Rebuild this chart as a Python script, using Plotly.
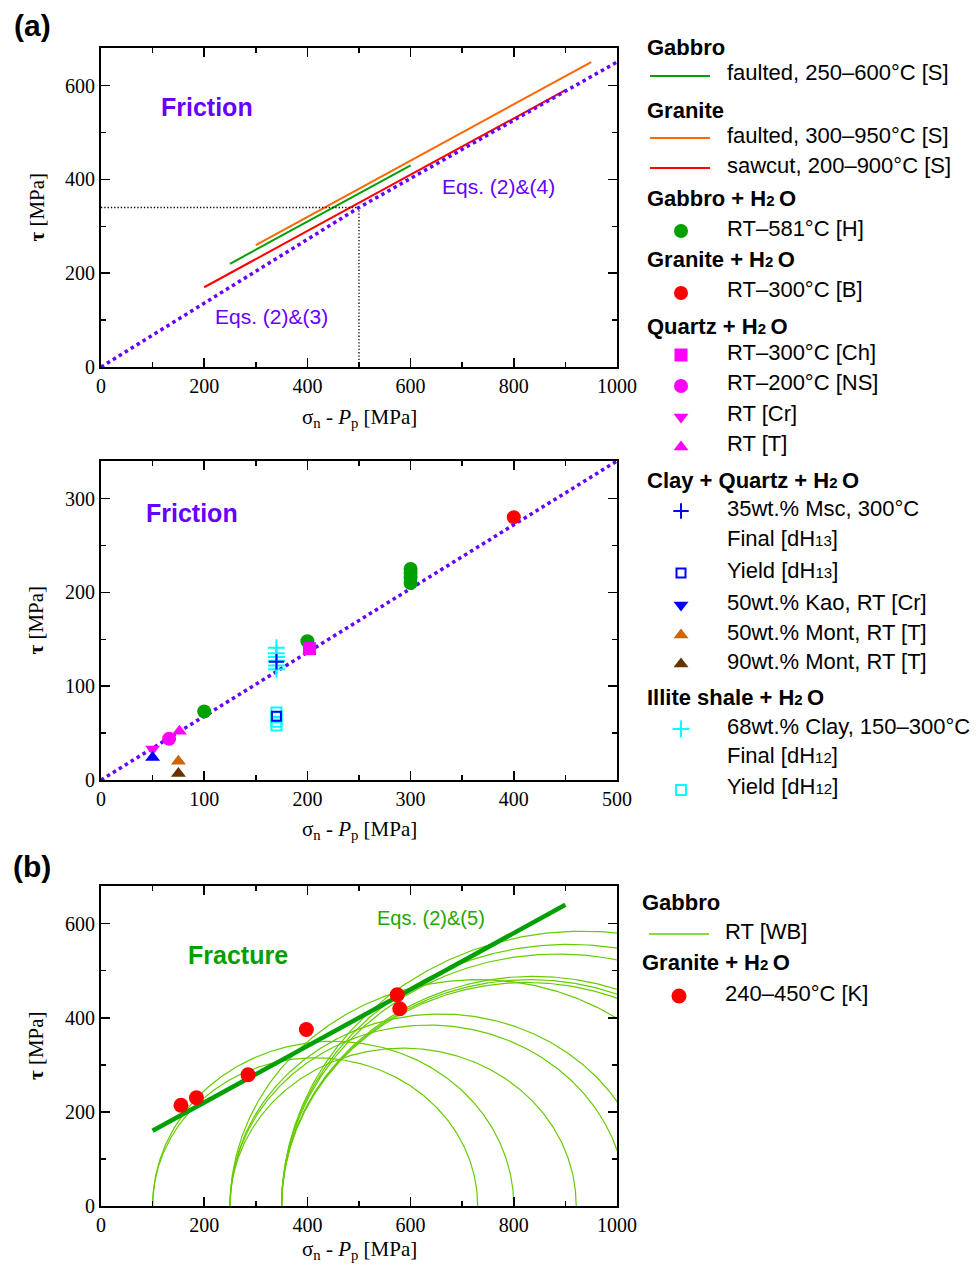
import numpy as np
import plotly.graph_objects as go

W, H = 978, 1267

# ======================= DATA =======================
# (a) upper panel: friction laws, end points (sigma_n - Pp, tau) in MPa
gabbro_faulted_sn = [250, 600]
gabbro_faulted_tau = [220, 430]
granite_faulted_sn = [300, 950]
granite_faulted_tau = [260, 650]
granite_sawcut_sn = [200, 900]
granite_sawcut_tau = [170, 590]
eqs_sn = [0, 500, 1000]          # Eqs. (2)&(3) / (2)&(4)
eqs_tau = [0, 340, 650]
guide_sn = [0, 500, 500]
guide_tau = [340, 340, 0]

# (a) lower panel: wet friction data
gabbro_h2o_sn = [100, 200, 300, 300, 300, 300]
gabbro_h2o_tau = [73, 148, 210, 216, 221, 225]
granite_h2o_sn = [400]
granite_h2o_tau = [280]
qz_ch_sn = [202]
qz_ch_tau = [140]
qz_ns_sn = [66]
qz_ns_tau = [44]
qz_cr_sn = [50]
qz_cr_tau = [33]
qz_t_sn = [76]
qz_t_tau = [52]
illite_final_sn = [170, 170, 170, 170, 170, 170]
illite_final_tau = [141, 135, 131, 127, 122, 118]
illite_yield_sn = [170, 170, 170, 170]
illite_yield_tau = [72, 67, 62, 58]
msc_final_sn = [170]
msc_final_tau = [126]
msc_yield_sn = [170]
msc_yield_tau = [68]
kao_sn = [50]
kao_tau = [24]
mont50_sn = [75]
mont50_tau = [20]
mont90_sn = [75]
mont90_tau = [7]

# (b) fracture
fracture_sn = [100, 900]         # Eqs. (2)&(5)
fracture_tau = [160, 640]
mohr_sigma3 = [100, 100, 250, 250, 250, 250, 350, 350, 350, 350, 350, 350]
mohr_sigma1 = [730, 800, 921, 1019, 1066, 1212, 1300, 1312, 1326, 1421, 1462, 1518]
granite_k_sn = [155, 185, 285, 398, 574, 579]
granite_k_tau = [214, 230, 279, 375, 449, 419]

# tick values
ticks_1000 = [0, 200, 400, 600, 800, 1000]
ticks_600 = [0, 200, 400, 600]
ticks_500 = [0, 100, 200, 300, 400, 500]
ticks_300 = [0, 100, 200, 300]

# ======================= STYLES =======================
PURPLE = "#6600ff"
GREEN = "#00a000"
LGREEN = "#66cc00"
ORANGE = "#ff6600"
RED = "#ff0000"
MAG = "#ff00ff"
BLUE = "#0000ff"
CYAN = "#00ffff"
DORANGE = "#cc6600"
BROWN = "#663300"
SANS = "Liberation Sans, Arial, sans-serif"
SERIF = "Liberation Serif, Times New Roman, serif"

line_styles = {
    "gabbro_faulted": dict(color=GREEN, width=2),
    "granite_faulted": dict(color=ORANGE, width=2),
    "granite_sawcut": dict(color=RED, width=2),
    "gabbro_wb": dict(color=LGREEN, width=1.2),
}
marker_styles = {
    "gabbro_h2o": dict(symbol="circle", size=14, color=GREEN),
    "granite_h2o": dict(symbol="circle", size=14, color=RED),
    "qz_ch": dict(symbol="square", size=13, color=MAG),
    "qz_ns": dict(symbol="circle", size=14, color=MAG),
    "qz_cr": dict(symbol="triangle-down", size=13, color=MAG),
    "qz_t": dict(symbol="triangle-up", size=13, color=MAG),
    "msc_final": dict(symbol="cross-thin", size=11, color=BLUE, line=dict(color=BLUE, width=2)),
    "msc_yield": dict(symbol="square-open", size=9, color=BLUE, line=dict(color=BLUE, width=2)),
    "kao": dict(symbol="triangle-down", size=13, color=BLUE),
    "kao_plot": dict(symbol="triangle-up", size=13, color=BLUE),
    "mont50": dict(symbol="triangle-up", size=13, color=DORANGE),
    "mont90": dict(symbol="triangle-up", size=13, color=BROWN),
    "illite_final": dict(symbol="cross-thin", size=12, color=CYAN, line=dict(color=CYAN, width=2)),
    "illite_yield": dict(symbol="square-open", size=10, color=CYAN, line=dict(color=CYAN, width=2)),
    "granite_k": dict(symbol="circle", size=15, color=RED),
}

# panel boxes in pixels (left, right, top, bottom)
PX_L, PX_R = 101, 617
BOX = {"top": (48, 367), "mid": (461, 780), "bot": (886, 1206)}


def ydom(box):
    t, b = BOX[box]
    return [1 - b / H, 1 - t / H]


fig = go.Figure()


def add_line(x, y, style, xa, ya, dash=None, name=""):
    ln = dict(line_styles[style]) if isinstance(style, str) else dict(style)
    if dash:
        ln["dash"] = dash
    fig.add_trace(go.Scatter(x=x, y=y, mode="lines", line=ln, xaxis=xa, yaxis=ya,
                             showlegend=False, hoverinfo="skip", name=name))


def add_markers(x, y, style, xa, ya, name=""):
    fig.add_trace(go.Scatter(x=x, y=y, mode="markers", marker=marker_styles[style],
                             xaxis=xa, yaxis=ya, showlegend=False, name=name))


# ---- top panel ----
add_line(gabbro_faulted_sn, gabbro_faulted_tau, "gabbro_faulted", "x", "y")
add_line(granite_faulted_sn, granite_faulted_tau, "granite_faulted", "x", "y")
add_line(granite_sawcut_sn, granite_sawcut_tau, "granite_sawcut", "x", "y")
add_line(guide_sn, guide_tau, dict(color="black", width=1.3), "x", "y", dash="1.3px,2px")
add_line(eqs_sn, eqs_tau, dict(color=PURPLE, width=3.5), "x", "y", dash="dot")

# ---- middle panel ----
add_line(eqs_sn, eqs_tau, dict(color=PURPLE, width=3.5), "x2", "y2", dash="dot")
add_markers(gabbro_h2o_sn, gabbro_h2o_tau, "gabbro_h2o", "x2", "y2")
add_markers(granite_h2o_sn, granite_h2o_tau, "granite_h2o", "x2", "y2")
add_markers(qz_ch_sn, qz_ch_tau, "qz_ch", "x2", "y2")
add_markers(qz_ns_sn, qz_ns_tau, "qz_ns", "x2", "y2")
add_markers(qz_t_sn, qz_t_tau, "qz_t", "x2", "y2")
add_markers(qz_cr_sn, qz_cr_tau, "qz_cr", "x2", "y2")
add_markers(illite_final_sn, illite_final_tau, "illite_final", "x2", "y2")
add_markers(illite_yield_sn, illite_yield_tau, "illite_yield", "x2", "y2")
add_markers(msc_final_sn, msc_final_tau, "msc_final", "x2", "y2")
add_markers(msc_yield_sn, msc_yield_tau, "msc_yield", "x2", "y2")
add_markers(kao_sn, kao_tau, "kao_plot", "x2", "y2")
add_markers(mont50_sn, mont50_tau, "mont50", "x2", "y2")
add_markers(mont90_sn, mont90_tau, "mont90", "x2", "y2")

# ---- bottom panel ----
theta = np.linspace(0, np.pi, 361)
for s3, s1 in zip(mohr_sigma3, mohr_sigma1):
    c, r = (s1 + s3) / 2, (s1 - s3) / 2
    add_line(c + r * np.cos(theta), r * np.sin(theta), "gabbro_wb", "x3", "y3")
add_line(fracture_sn, fracture_tau, dict(color=GREEN, width=4.5), "x3", "y3")
add_markers(granite_k_sn, granite_k_tau, "granite_k", "x3", "y3")


# ---- axes ----
def axis(rng, minor, domain, anchor, tickvals):
    return dict(range=rng, domain=domain, anchor=anchor, tickmode="array", tickvals=tickvals,
                ticks="inside", ticklen=9, tickwidth=1.5, tickcolor="black",
                showline=True, linecolor="black", linewidth=2, mirror="ticks",
                showgrid=False, zeroline=False, automargin=False,
                minor=dict(ticks="inside", ticklen=5, dtick=minor, tick0=0, tickwidth=1.5,
                           tickcolor="black", showgrid=False),
                tickfont=dict(family=SERIF, size=20, color="black"), fixedrange=True)


def hidden(rng, anchor):
    return dict(domain=[0, 1], range=rng, visible=False, showticklabels=False, ticks="",
                showgrid=False, zeroline=False, anchor=anchor, automargin=False, fixedrange=True)


xdom = [PX_L / W, PX_R / W]
fig.update_layout(
    template="none",
    xaxis=axis([0, 1000], 100, xdom, "y", ticks_1000),
    yaxis=axis([0, 680], 100, ydom("top"), "x", ticks_600),
    xaxis2=axis([0, 500], 50, xdom, "y2", ticks_500),
    yaxis2=axis([0, 340], 50, ydom("mid"), "x2", ticks_300),
    xaxis3=axis([0, 1000], 100, xdom, "y3", ticks_1000),
    yaxis3=axis([0, 680], 100, ydom("bot"), "x3", ticks_600),
    xaxis4=hidden([0, W], "y4"),
    yaxis4=hidden([H, 0], "x4"),
)

annotations = []


def ann(text, x, y, xref, yref, size, color="black", family=SANS, xanchor="center",
        yanchor="middle", textangle=0):
    annotations.append(dict(text=text, x=x, y=y, xref=xref, yref=yref, showarrow=False,
                            xanchor=xanchor, yanchor=yanchor, textangle=textangle,
                            font=dict(family=family, size=size, color=color)))


# panel labels
ann("<b>(a)</b>", 32.5 / W, 1 - 26 / H, "paper", "paper", 30)
ann("<b>(b)</b>", 31.5 / W, 1 - 866 / H, "paper", "paper", 30)

# axis titles
xtitle = "σ<sub>n</sub> - <i>P</i><sub>p</sub> [MPa]"
ytitle = "<b>τ</b> [MPa]"
for box, ty in (("top", 418), ("mid", 830), ("bot", 1250)):
    t, b = BOX[box]
    ann(xtitle, (PX_L + PX_R) / 2 / W, 1 - ty / H, "paper", "paper", 21, family=SERIF)
    ann(ytitle, 36 / W, 1 - (t + b) / 2 / H, "paper", "paper", 21, family=SERIF, textangle=-90)

# in-plot labels
ann("<b>Friction</b>", 206, 555, "x", "y", 25, PURPLE)
ann("Eqs. (2)&(4)", 770, 384, "x", "y", 21, PURPLE)
ann("Eqs. (2)&(3)", 330, 107, "x", "y", 21, PURPLE)
ann("<b>Friction</b>", 88, 285, "x2", "y2", 25, PURPLE)
ann("<b>Fracture</b>", 266, 534, "x3", "y3", 25, GREEN)
ann("Eqs. (2)&(5)", 639, 612, "x3", "y3", 20, "#22a800")


# ---- legends (drawn with text + sample marks) ----
def small(s):
    return '<span style="font-size:15px">' + s + "</span>"


H2O = "H" + small("2") + "\u2009O"
legend_a_rows = [
    ("header", "Gabbro", None, 48),
    ("line", "faulted, 250–600°C [S]", "gabbro_faulted", 73),
    ("header", "Granite", None, 111),
    ("line", "faulted, 300–950°C [S]", "granite_faulted", 135),
    ("line", "sawcut, 200–900°C [S]", "granite_sawcut", 165),
    ("header", "Gabbro + " + H2O, None, 198),
    ("marker", "RT–581°C [H]", "gabbro_h2o", 228),
    ("header", "Granite + " + H2O, None, 259),
    ("marker", "RT–300°C [B]", "granite_h2o", 290),
    ("header", "Quartz + " + H2O, None, 326),
    ("marker", "RT–300°C [Ch]", "qz_ch", 352),
    ("marker", "RT–200°C [NS]", "qz_ns", 383),
    ("marker", "RT [Cr]", "qz_cr", 414),
    ("marker", "RT [T]", "qz_t", 444),
    ("header", "Clay + Quartz + " + H2O, None, 481),
    ("marker", "35wt.% Msc, 300°C", "msc_final", 508),
    ("text", "Final [dH" + small("13") + "]", None, 538),
    ("marker", "Yield [dH" + small("13") + "]", "msc_yield", 570),
    ("marker", "50wt.% Kao, RT [Cr]", "kao", 602),
    ("marker", "50wt.% Mont, RT [T]", "mont50", 632),
    ("marker", "90wt.% Mont, RT [T]", "mont90", 661),
    ("header", "Illite shale + " + H2O, None, 697),
    ("marker", "68wt.% Clay, 150–300°C", "illite_final", 726),
    ("text", "Final [dH" + small("12") + "]", None, 755),
    ("marker", "Yield [dH" + small("12") + "]", "illite_yield", 787),
]
legend_b_rows = [
    ("header", "Gabbro", None, 902),
    ("line", "RT [WB]", "gabbro_wb", 931),
    ("header", "Granite + " + H2O, None, 962),
    ("marker", "240–450°C [K]", "granite_k", 993),
]


def draw_legend(rows, hx, lx0, lx1, mx, tx):
    for kind, label, style, y in rows:
        if kind == "header":
            ann("<b>" + label + "</b>", hx / W, 1 - y / H, "paper", "paper", 22, xanchor="left")
            continue
        ann(label, tx / W, 1 - y / H, "paper", "paper", 22, xanchor="left")
        if kind == "line":
            ln = dict(line_styles[style])
            ln["width"] = max(ln["width"], 1.5)
            fig.add_trace(go.Scatter(x=[lx0, lx1], y=[y + 3, y + 3], mode="lines", line=ln,
                                     xaxis="x4", yaxis="y4", showlegend=False, hoverinfo="skip"))
        elif kind == "marker":
            fig.add_trace(go.Scatter(x=[mx], y=[y + 3], mode="markers", marker=marker_styles[style],
                                     xaxis="x4", yaxis="y4", showlegend=False, hoverinfo="skip"))


draw_legend(legend_a_rows, 645, 650, 710, 681, 725)
draw_legend(legend_b_rows, 640, 649, 709, 679, 723)

fig.update_layout(
    width=W, height=H, autosize=False, margin=dict(l=0, r=0, t=0, b=0, pad=0),
    paper_bgcolor="white", plot_bgcolor="rgba(0,0,0,0)",
    showlegend=False, annotations=annotations,
    font=dict(family=SANS, color="black"),
)

fig.write_html("out.html", include_plotlyjs=True, full_html=True,
               config={"displayModeBar": False, "staticPlot": True, "responsive": False},
               post_script="document.body.style.margin='0';document.body.style.overflow='hidden';")
